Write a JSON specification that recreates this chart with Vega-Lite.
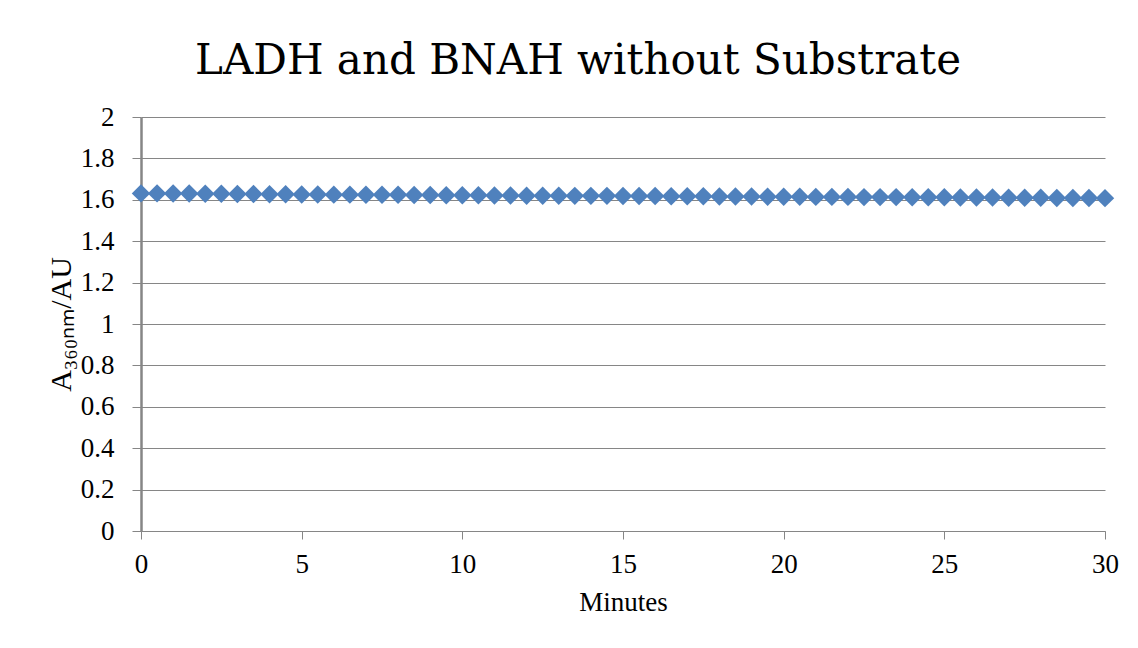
{
  "$schema": "https://vega.github.io/schema/vega-lite/v6.json",
  "width": 964,
  "height": 414,
  "autosize": {"type": "none"},
  "padding": {"left": 141, "top": 117, "right": 33, "bottom": 117},
  "background": "white",
  "title": {
    "text": "LADH and BNAH without Substrate",
    "font": "DejaVu Serif",
    "fontSize": 42,
    "fontWeight": "normal",
    "color": "black",
    "anchor": "middle",
    "baseline": "alphabetic",
    "offset": -13,
    "dx": -45
  },
  "config": {
    "view": {"stroke": null},
    "axis": {
      "labelFont": "Liberation Serif",
      "titleFont": "Liberation Serif",
      "labelFontSize": 27,
      "titleFontSize": 27,
      "labelColor": "black",
      "titleColor": "black",
      "titleFontWeight": "normal",
      "domainColor": "#868686",
      "tickColor": "#868686",
      "gridColor": "#868686",
      "gridOpacity": 1,
      "gridWidth": 1
    }
  },
  "data": {
    "values": [
      {"min": 0, "abs": 1.631}, {"min": 0.5, "abs": 1.631}, {"min": 1, "abs": 1.630}, {"min": 1.5, "abs": 1.630},
      {"min": 2, "abs": 1.629}, {"min": 2.5, "abs": 1.629}, {"min": 3, "abs": 1.628}, {"min": 3.5, "abs": 1.628},
      {"min": 4, "abs": 1.627}, {"min": 4.5, "abs": 1.627}, {"min": 5, "abs": 1.626}, {"min": 5.5, "abs": 1.626},
      {"min": 6, "abs": 1.625}, {"min": 6.5, "abs": 1.625}, {"min": 7, "abs": 1.624}, {"min": 7.5, "abs": 1.624},
      {"min": 8, "abs": 1.624}, {"min": 8.5, "abs": 1.623}, {"min": 9, "abs": 1.623}, {"min": 9.5, "abs": 1.622},
      {"min": 10, "abs": 1.622}, {"min": 10.5, "abs": 1.622}, {"min": 11, "abs": 1.621}, {"min": 11.5, "abs": 1.621},
      {"min": 12, "abs": 1.620}, {"min": 12.5, "abs": 1.620}, {"min": 13, "abs": 1.620}, {"min": 13.5, "abs": 1.619},
      {"min": 14, "abs": 1.619}, {"min": 14.5, "abs": 1.619}, {"min": 15, "abs": 1.618}, {"min": 15.5, "abs": 1.618},
      {"min": 16, "abs": 1.618}, {"min": 16.5, "abs": 1.617}, {"min": 17, "abs": 1.617}, {"min": 17.5, "abs": 1.617},
      {"min": 18, "abs": 1.616}, {"min": 18.5, "abs": 1.616}, {"min": 19, "abs": 1.616}, {"min": 19.5, "abs": 1.615},
      {"min": 20, "abs": 1.615}, {"min": 20.5, "abs": 1.615}, {"min": 21, "abs": 1.614}, {"min": 21.5, "abs": 1.614},
      {"min": 22, "abs": 1.614}, {"min": 22.5, "abs": 1.613}, {"min": 23, "abs": 1.613}, {"min": 23.5, "abs": 1.613},
      {"min": 24, "abs": 1.612}, {"min": 24.5, "abs": 1.612}, {"min": 25, "abs": 1.612}, {"min": 25.5, "abs": 1.611},
      {"min": 26, "abs": 1.611}, {"min": 26.5, "abs": 1.611}, {"min": 27, "abs": 1.610}, {"min": 27.5, "abs": 1.610},
      {"min": 28, "abs": 1.610}, {"min": 28.5, "abs": 1.609}, {"min": 29, "abs": 1.609}, {"min": 29.5, "abs": 1.609},
      {"min": 30, "abs": 1.608}
    ]
  },
  "mark": {"type": "point", "shape": "diamond", "filled": true, "size": 340, "color": "#4F81BD", "opacity": 1},
  "encoding": {
    "x": {
      "field": "min",
      "type": "quantitative",
      "scale": {"domain": [0, 30], "nice": false},
      "axis": {
        "title": "Minutes",
        "values": [0, 5, 10, 15, 20, 25, 30],
        "grid": false,
        "domainWidth": 1,
        "tickSize": 8,
        "labelPadding": 12,
        "titlePadding": 12,
        "labelFlush": false
      }
    },
    "y": {
      "field": "abs",
      "type": "quantitative",
      "scale": {"domain": [0, 2], "nice": false},
      "axis": {
        "title": "A₃₆₀ₙₘ/AU",
        "titleFontSize": 30,
        "values": [0, 0.2, 0.4, 0.6, 0.8, 1, 1.2, 1.4, 1.6, 1.8, 2],
        "format": "~g",
        "grid": true,
        "domainWidth": 2.5,
        "tickSize": 9,
        "labelPadding": 18,
        "titlePadding": 4,
        "labelFlush": false
      }
    }
  }
}
